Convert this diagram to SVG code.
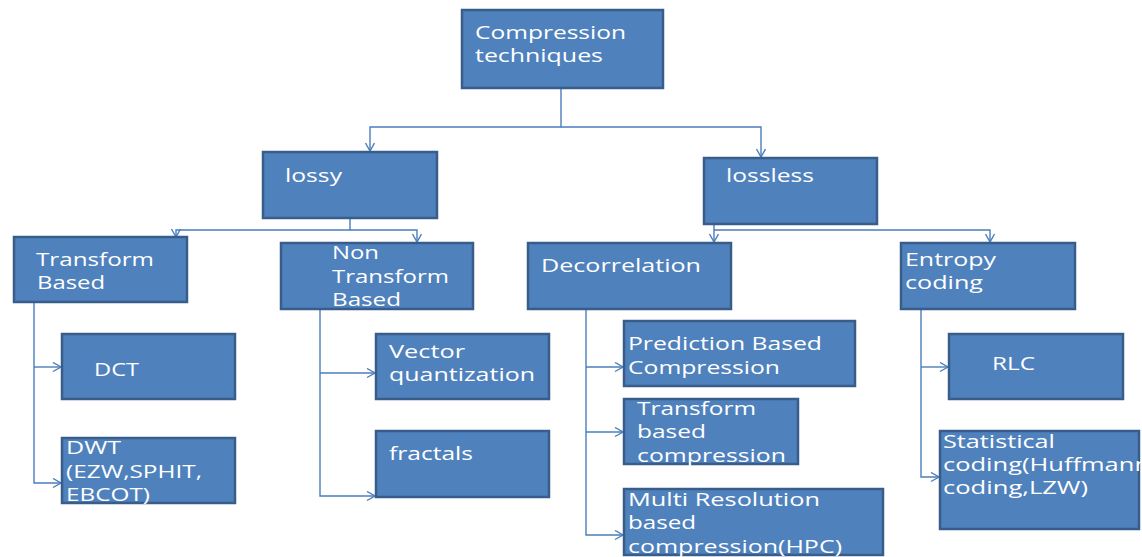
<svg xmlns="http://www.w3.org/2000/svg" width="1142" height="557" viewBox="0 0 1142 557">
<style>
.box{fill:#4F81BD;stroke:#385D8A;stroke-width:2.5}
.t{font-family:"Open Sans","Liberation Sans",sans-serif;font-size:18px;fill:#FFFFFF}
.c{fill:none;stroke:#4A7EBB;stroke-width:1.4}
</style>
<defs>
<marker id="ah" markerUnits="userSpaceOnUse" markerWidth="12" markerHeight="12" refX="9" refY="5" orient="auto">
<path d="M1,0.5 L9,5 L1,9.5" fill="none" stroke="#4A7EBB" stroke-width="1.4"/>
</marker>
</defs>
<rect width="1142" height="557" fill="#FFFFFF"/>
<g id="connectors">
<path class="c" d="M561,88 V127 H370 V151" marker-end="url(#ah)"/>
<path class="c" d="M561,127 H761 V157" marker-end="url(#ah)"/>
<path class="c" d="M350,218 V230 H176 V237" marker-end="url(#ah)"/>
<path class="c" d="M350,230 H417 V242" marker-end="url(#ah)"/>
<path class="c" d="M714,224 V242" marker-end="url(#ah)"/>
<path class="c" d="M714,230 H990 V242" marker-end="url(#ah)"/>
<path class="c" d="M34,302 V483 H61" marker-end="url(#ah)"/>
<path class="c" d="M34,367 H61" marker-end="url(#ah)"/>
<path class="c" d="M320,309 V496 H375" marker-end="url(#ah)"/>
<path class="c" d="M320,373 H375" marker-end="url(#ah)"/>
<path class="c" d="M586,309 V535 H623" marker-end="url(#ah)"/>
<path class="c" d="M586,367 H623" marker-end="url(#ah)"/>
<path class="c" d="M586,432 H623" marker-end="url(#ah)"/>
<path class="c" d="M921,309 V477 H939" marker-end="url(#ah)"/>
<path class="c" d="M921,367 H948" marker-end="url(#ah)"/>
</g>
<g id="root">
<rect class="box" x="462" y="10" width="201" height="78"/>
<text class="t" x="475" y="39" textLength="151" lengthAdjust="spacingAndGlyphs">Compression</text>
<text class="t" x="475" y="62" textLength="128" lengthAdjust="spacingAndGlyphs">techniques</text>
</g>
<g id="lossy">
<rect class="box" x="263" y="152" width="174" height="66"/>
<text class="t" x="285" y="182" textLength="57" lengthAdjust="spacingAndGlyphs">lossy</text>
</g>
<g id="lossless">
<rect class="box" x="704" y="158" width="173" height="66"/>
<text class="t" x="726" y="182" textLength="88" lengthAdjust="spacingAndGlyphs">lossless</text>
</g>
<g id="transform-based">
<rect class="box" x="14" y="237" width="173" height="65"/>
<text class="t" x="36" y="266" textLength="118" lengthAdjust="spacingAndGlyphs">Transform</text>
<text class="t" x="37" y="289" textLength="68" lengthAdjust="spacingAndGlyphs">Based</text>
</g>
<g id="non-transform-based">
<rect class="box" x="281" y="243" width="192" height="66"/>
<text class="t" x="332" y="259" textLength="47" lengthAdjust="spacingAndGlyphs">Non</text>
<text class="t" x="332" y="283" textLength="117" lengthAdjust="spacingAndGlyphs">Transform</text>
<text class="t" x="332" y="306" textLength="69" lengthAdjust="spacingAndGlyphs">Based</text>
</g>
<g id="decorrelation">
<rect class="box" x="528" y="243" width="203" height="66"/>
<text class="t" x="541" y="272" textLength="160" lengthAdjust="spacingAndGlyphs">Decorrelation</text>
</g>
<g id="entropy-coding">
<rect class="box" x="901" y="243" width="174" height="66"/>
<text class="t" x="905" y="266" textLength="91" lengthAdjust="spacingAndGlyphs">Entropy</text>
<text class="t" x="905" y="289" textLength="78" lengthAdjust="spacingAndGlyphs">coding</text>
</g>
<g id="dct">
<rect class="box" x="62" y="334" width="173" height="65"/>
<text class="t" x="94" y="376" textLength="45" lengthAdjust="spacingAndGlyphs">DCT</text>
</g>
<g id="dwt">
<rect class="box" x="62" y="438" width="173" height="65"/>
<text class="t" x="66" y="454" textLength="55" lengthAdjust="spacingAndGlyphs">DWT</text>
<text class="t" x="66" y="478" textLength="136" lengthAdjust="spacingAndGlyphs">(EZW,SPHIT,</text>
<text class="t" x="66" y="501" textLength="84" lengthAdjust="spacingAndGlyphs">EBCOT)</text>
</g>
<g id="vector-quantization">
<rect class="box" x="376" y="334" width="173" height="65"/>
<text class="t" x="389" y="358" textLength="76" lengthAdjust="spacingAndGlyphs">Vector</text>
<text class="t" x="389" y="381" textLength="146" lengthAdjust="spacingAndGlyphs">quantization</text>
</g>
<g id="fractals">
<rect class="box" x="376" y="431" width="173" height="66"/>
<text class="t" x="389" y="460" textLength="84" lengthAdjust="spacingAndGlyphs">fractals</text>
</g>
<g id="prediction-based">
<rect class="box" x="624" y="321" width="231" height="65"/>
<text class="t" x="628" y="350" textLength="194" lengthAdjust="spacingAndGlyphs">Prediction Based</text>
<text class="t" x="628" y="374" textLength="152" lengthAdjust="spacingAndGlyphs">Compression</text>
</g>
<g id="transform-based-compression">
<rect class="box" x="624" y="399" width="174" height="65"/>
<text class="t" x="637" y="415" textLength="119" lengthAdjust="spacingAndGlyphs">Transform</text>
<text class="t" x="637" y="438" textLength="69" lengthAdjust="spacingAndGlyphs">based</text>
<text class="t" x="637" y="462" textLength="149" lengthAdjust="spacingAndGlyphs">compression</text>
</g>
<g id="multi-resolution">
<rect class="box" x="624" y="489" width="259" height="66"/>
<text class="t" x="628" y="506" textLength="192" lengthAdjust="spacingAndGlyphs">Multi Resolution</text>
<text class="t" x="628" y="529" textLength="68" lengthAdjust="spacingAndGlyphs">based</text>
<text class="t" x="628" y="553" textLength="214" lengthAdjust="spacingAndGlyphs">compression(HPC)</text>
</g>
<g id="rlc">
<rect class="box" x="949" y="334" width="174" height="65"/>
<text class="t" x="992" y="370" textLength="43" lengthAdjust="spacingAndGlyphs">RLC</text>
</g>
<g id="statistical-coding">
<rect class="box" x="940" y="431" width="199" height="98"/>
<text class="t" x="943" y="448" textLength="112" lengthAdjust="spacingAndGlyphs">Statistical</text>
<text class="t" x="943" y="471" textLength="207" lengthAdjust="spacingAndGlyphs">coding(Huffmann</text>
<text class="t" x="943" y="494" textLength="145" lengthAdjust="spacingAndGlyphs">coding,LZW)</text>
</g>
</svg>
